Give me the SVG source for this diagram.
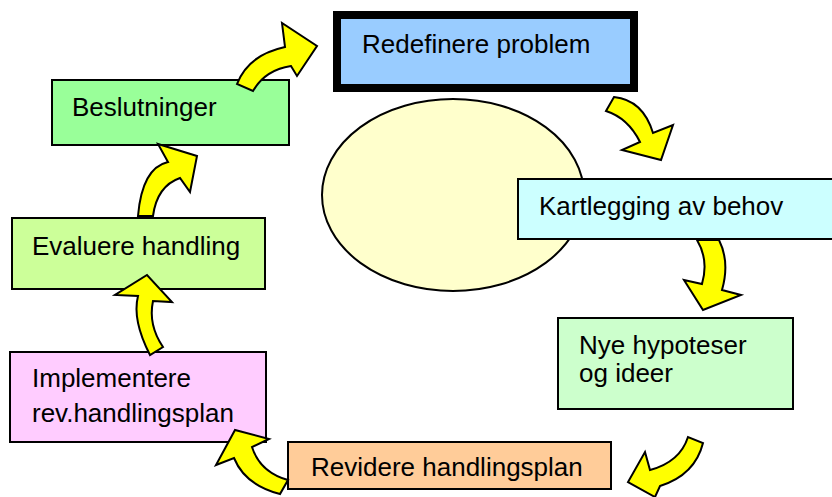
<svg xmlns="http://www.w3.org/2000/svg" width="832" height="497" viewBox="0 0 832 497">
<style>
.box{stroke:#000;stroke-width:2}
.t{font-family:"Liberation Sans",Arial,sans-serif;font-size:26px;fill:#000}
.arr{fill:#FFFF00;stroke:#000;stroke-width:2;stroke-linejoin:miter}
</style>
<rect width="832" height="497" fill="#fff"/>
<g id="center">
<ellipse cx="453" cy="195" rx="131" ry="96" fill="#FFFFCC" stroke="#000" stroke-width="2"/>
</g>
<g id="redefinere">
<rect x="337" y="15" width="297" height="73" fill="#99CCFF" stroke="#000" stroke-width="8"/>
<text class="t" x="362" y="53">Redefinere problem</text>
</g>
<g id="kartlegging">
<rect class="box" x="518" y="179" width="320" height="60" fill="#CCFFFF"/>
<text class="t" x="539" y="215">Kartlegging av behov</text>
</g>
<g id="nye">
<rect class="box" x="558" y="318" width="235" height="91" fill="#CCFFCC"/>
<text class="t" x="579" y="354">Nye hypoteser</text>
<text class="t" x="579" y="382">og ideer</text>
</g>
<g id="revidere">
<rect class="box" x="288" y="442" width="323" height="47" fill="#FFCC99"/>
<text class="t" x="311" y="476">Revidere handlingsplan</text>
</g>
<g id="implementere">
<rect class="box" x="10" y="352" width="256" height="90" fill="#FFCCFF"/>
<text class="t" x="32" y="387">Implementere</text>
<text class="t" x="32" y="422">rev.handlingsplan</text>
</g>
<g id="evaluere">
<rect class="box" x="12" y="218" width="253" height="71" fill="#CCFF99"/>
<text class="t" x="32" y="255">Evaluere handling</text>
</g>
<g id="beslutninger">
<rect class="box" x="52" y="80" width="237" height="65" fill="#99FF99"/>
<text class="t" x="72" y="116">Beslutninger</text>
</g>
<g id="connectors">
<path class="arr" d="M237,84 Q248,55 285,47 L282,23 L317,46 L297,76 L291,66 Q265,70 253,91 Z"/>
<path class="arr" d="M606,111 L614,97 Q643,100 653,133 L673,125 L661,160 L622,150 L640,142 Q628,118 606,111 Z"/>
<path class="arr" d="M697,240 Q709,260 702,284 L684,280 L703,310 L741,295 L722,290 Q730,262 719,240 Z"/>
<path class="arr" d="M688,437 Q680,462 650,470 L645,452 L628,482 L655,497 L660,486 Q695,475 703,443 Z"/>
<path class="arr" d="M280,494 Q245,485 234,458 L216,465 L235,430 L269,439 L252,447 Q260,472 288,480 Z"/>
<path class="arr" d="M150,355 Q132,320 138,296 L115,295 L147,275 L172,302 L153,301 Q148,325 163,347 Z"/>
<path class="arr" d="M138,216 Q142,168 168,162 L158,144 L197,156 L190,192 L180,178 Q157,186 153,216 Z"/>
</g>
</svg>
